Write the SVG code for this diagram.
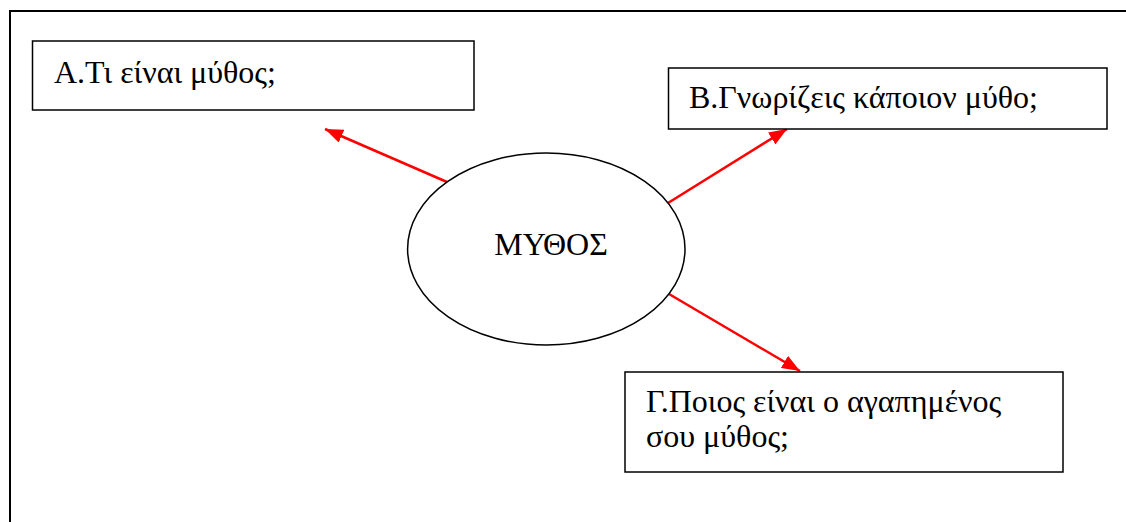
<svg xmlns="http://www.w3.org/2000/svg" width="1126" height="522" viewBox="0 0 1126 522">
<style>
.box{fill:#fff;stroke:#000;stroke-width:1.5}
.c{fill:none;stroke:#ff0000;stroke-width:2.5}
</style>
<defs>
<marker id="ah" viewBox="0 0 18 14" refX="18" refY="7" markerWidth="18" markerHeight="14" markerUnits="userSpaceOnUse" orient="auto">
<path d="M0,0 L18,7 L0,14 z" fill="#ff0000"/>
</marker>
</defs>
<rect width="1126" height="522" fill="#fff"/>
<path d="M10,522 V11 H1126" fill="none" stroke="#000" stroke-width="2"/>
<g id="connectors">
<line class="c" x1="447" y1="182" x2="325" y2="129" marker-end="url(#ah)"/>
<line class="c" x1="668" y1="203" x2="787" y2="129" marker-end="url(#ah)"/>
<line class="c" x1="669" y1="294" x2="800" y2="371" marker-end="url(#ah)"/>
</g>
<g font-family="Times New Roman, Liberation Serif, DejaVu Serif, serif" font-size="32" fill="#000">
<g id="nodeA">
<rect class="box" x="32.5" y="41" width="441.5" height="69"/>
<text x="54" y="83">Α.Τι είναι μύθος;</text>
</g>
<g id="nodeB">
<rect class="box" x="668.5" y="68" width="438.5" height="61"/>
<text x="689" y="108">Β.Γνωρίζεις κάποιον μύθο;</text>
</g>
<g id="nodeC">
<rect class="box" x="625" y="372" width="438" height="100"/>
<text x="646" y="412">Γ.Ποιος είναι ο αγαπημένος</text>
<text x="646" y="447">σου μύθος;</text>
</g>
<g id="center">
<ellipse cx="546.3" cy="249" rx="138.7" ry="96" fill="#fff" stroke="#000" stroke-width="1.5"/>
<text x="551" y="255" text-anchor="middle">ΜΥΘΟΣ</text>
</g>
</g>
</svg>
